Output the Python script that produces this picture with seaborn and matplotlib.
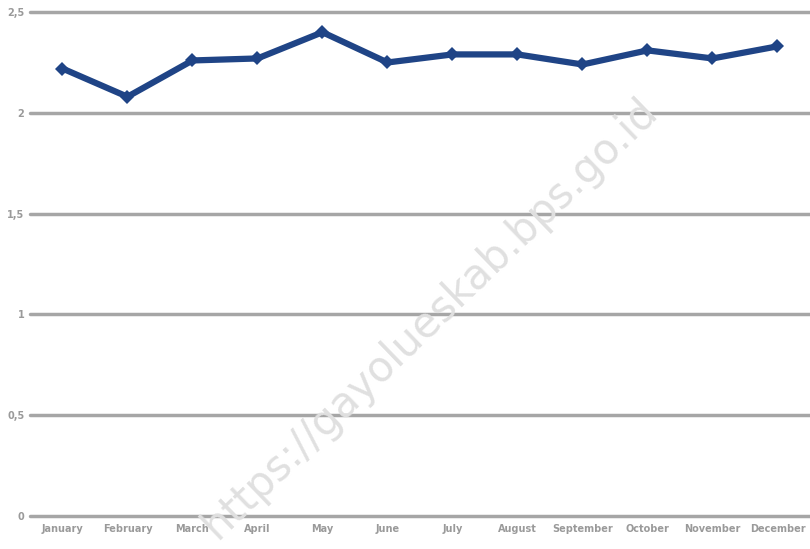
import matplotlib
matplotlib.use("Agg")
import matplotlib.pyplot as plt
import seaborn as sns
import pandas as pd

months = ["January", "February", "March", "April", "May", "June", "July",
          "August", "September", "October", "November", "December"]
values = [2.22, 2.08, 2.26, 2.27, 2.40, 2.25, 2.29, 2.29, 2.24, 2.31, 2.27, 2.33]
yticks = [0, 0.5, 1, 1.5, 2, 2.5]
ytick_labels = ["0", "0,5", "1", "1,5", "2", "2,5"]

df = pd.DataFrame({"month": months, "value": values})

sns.set_style("white")
fig = plt.figure(figsize=(8.1, 5.49), dpi=100)
ax = fig.add_axes([0.037, 0.06, 0.963, 0.918])

for y in yticks:
    ax.axhline(y, color="#a6a6a6", lw=2.5, zorder=1, clip_on=False)

sns.lineplot(data=df, x="month", y="value", ax=ax, color="#1f4486", lw=4.5,
             marker="D", markersize=7, markeredgewidth=0, sort=False, zorder=3)

ax.set_xlim(-0.5, 11.5)
ax.set_ylim(0, 2.5)
ax.set_yticks(yticks)
ax.set_yticklabels(ytick_labels)
ax.set_xlabel("")
ax.set_ylabel("")
ax.tick_params(axis="both", length=0, labelsize=7, labelcolor="#9a9a9a")
for lab in ax.get_xticklabels() + ax.get_yticklabels():
    lab.set_fontweight("bold")
ax.tick_params(axis="x", pad=6)
ax.tick_params(axis="y", pad=4)
for s in ax.spines.values():
    s.set_visible(False)

fig.text(0.53, 0.42, "https://gayolueskab.bps.go.id", rotation=44, fontsize=30,
         color="#e0e0e0", ha="center", va="center", zorder=0)

fig.savefig("out.png", dpi=100)
